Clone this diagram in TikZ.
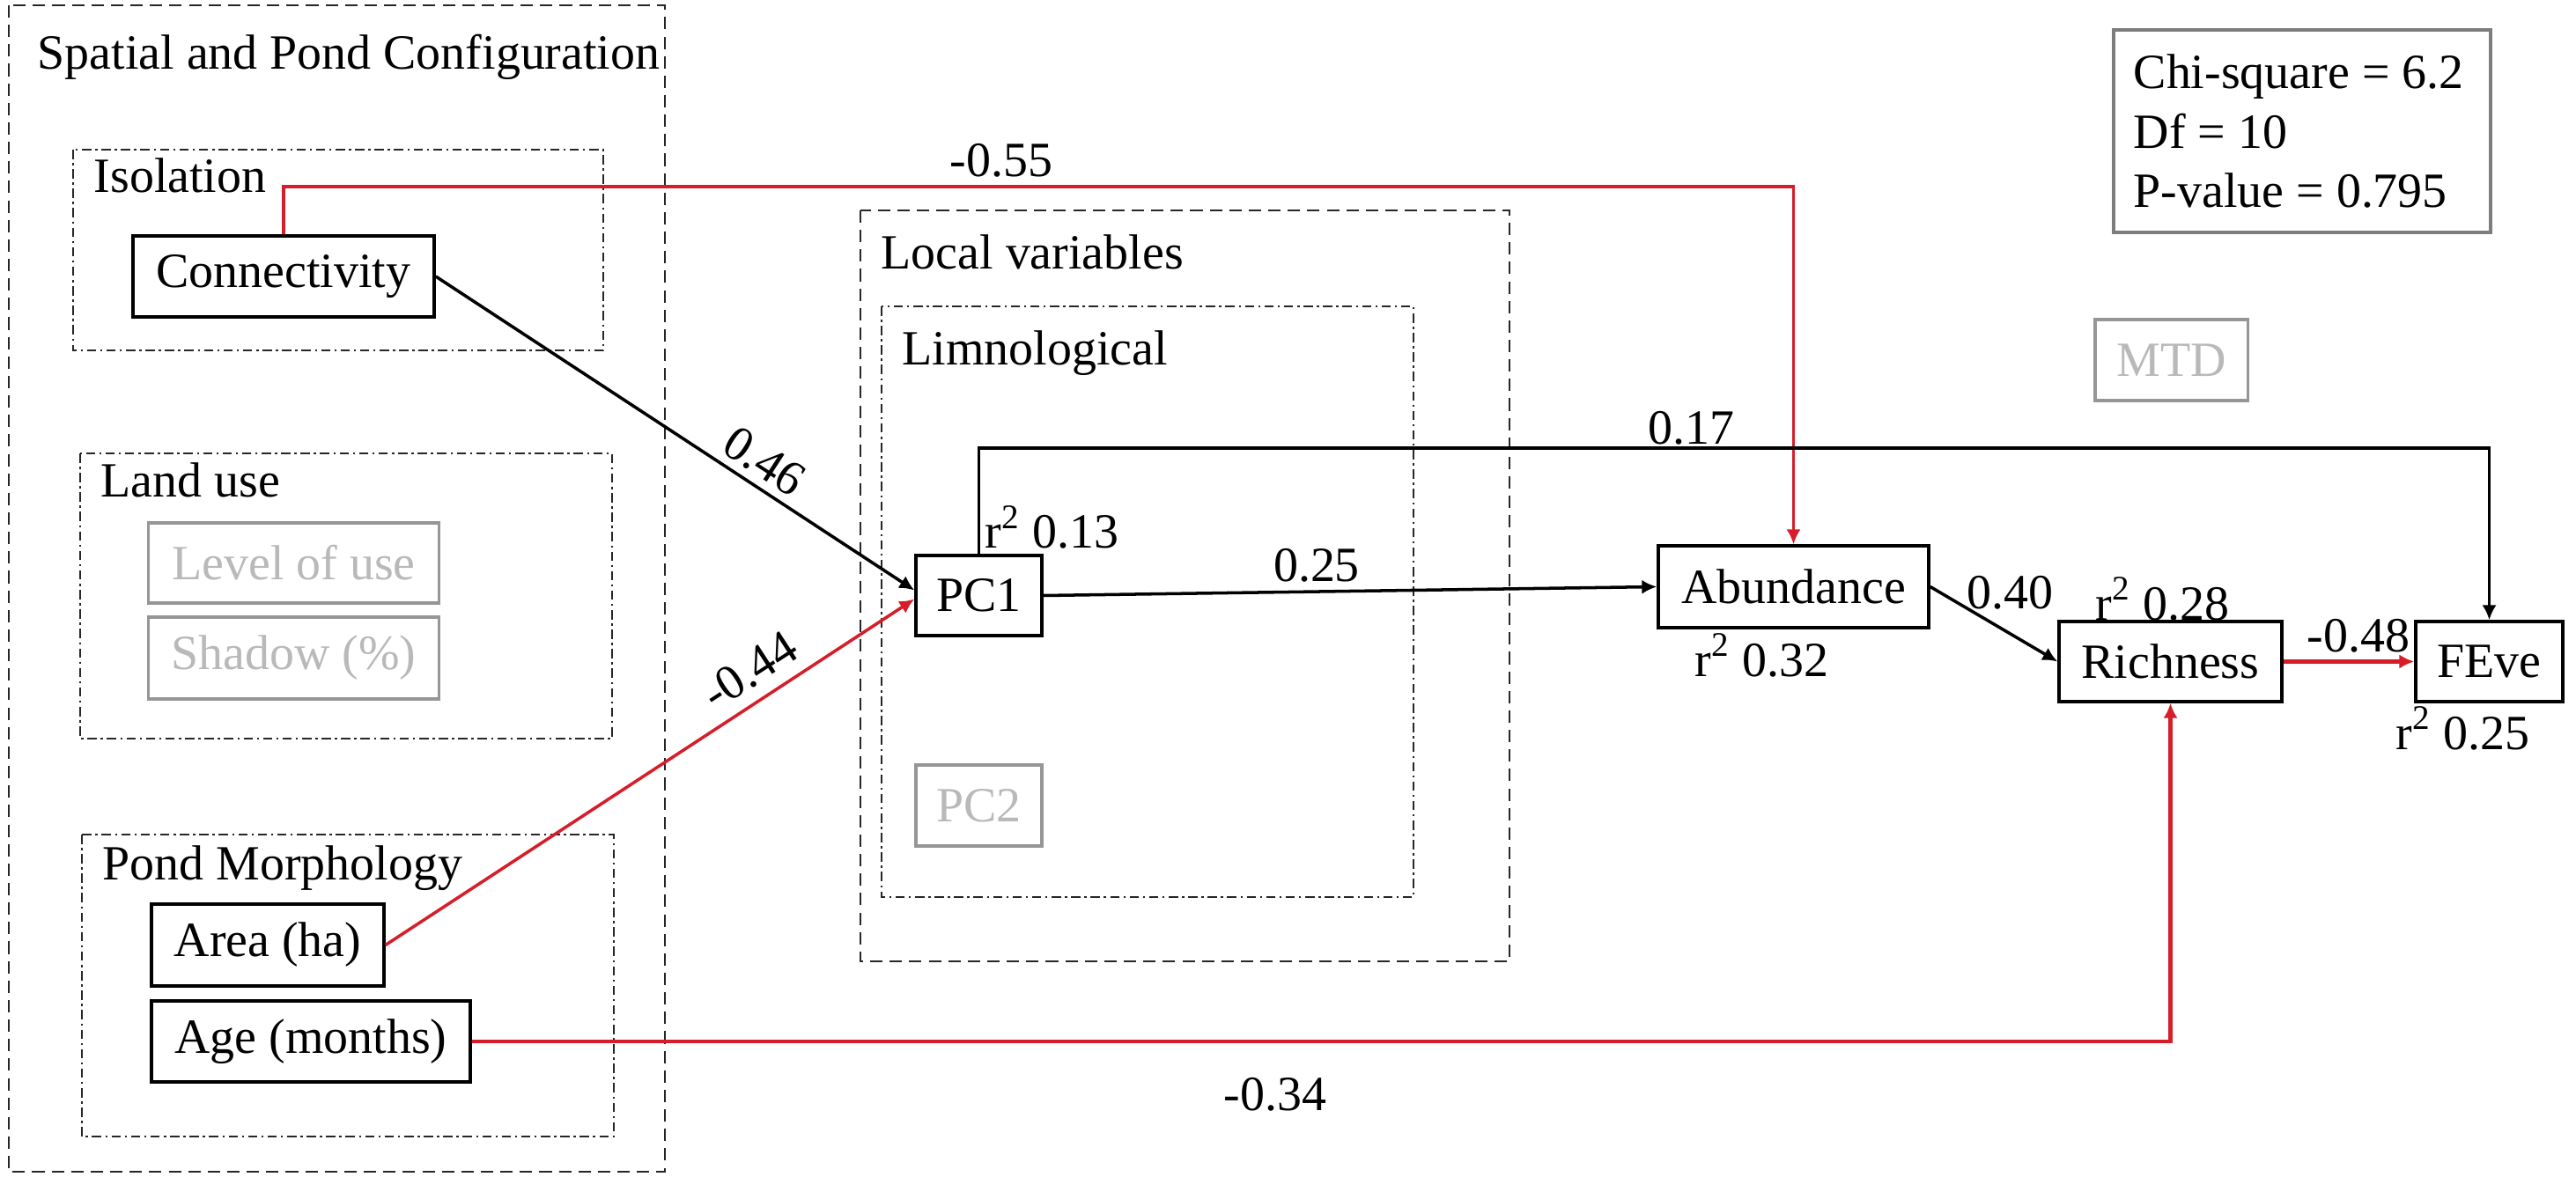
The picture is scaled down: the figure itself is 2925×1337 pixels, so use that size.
\documentclass[tikz,border=0pt]{standalone}
\usepackage{fontspec}
\setmainfont{Liberation Serif}
\usetikzlibrary{arrows.meta}
\definecolor{pathred}{RGB}{214,30,42}
\definecolor{boxgray}{RGB}{150,150,150}
\definecolor{txtgray}{RGB}{185,185,185}
\definecolor{statgray}{RGB}{125,125,125}
\begin{document}
\begin{tikzpicture}[x=0.01cm,y=-0.01cm,
  every node/.style={font=\fontsize{15.9pt}{19pt}\selectfont, inner sep=0pt},
  varbox/.style={draw=black, line width=0.95pt, fill=white},
  greybox/.style={draw=boxgray, line width=0.9pt, fill=white, text=txtgray},
  grpdash/.style={draw=black!85, line width=0.75pt, dash pattern=on 4pt off 2.3pt},
  grpdot/.style={draw=black!85, line width=0.65pt, dash pattern=on 3pt off 1.3pt on 0.7pt off 1.3pt},
  blk/.style={draw=black, line width=1pt, -{Latex[length=4.8pt,width=4.6pt]}},
  redarr/.style={draw=pathred, line width=1pt, -{Latex[length=4.8pt,width=4.6pt]}},
  lbl/.style={anchor=base west},
  clbl/.style={anchor=base}
]
\fill[white] (0,0) rectangle (2925,1337);
\useasboundingbox (0,0) rectangle (2925,1337);

% group frames
\draw[grpdash] (10,6) rectangle (755,1331);
\draw[grpdot] (83,170) rectangle (685,398);
\draw[grpdot] (91,515) rectangle (695,839);
\draw[grpdot] (93,948) rectangle (697,1291);
\draw[grpdash] (977,239) rectangle (1714,1092);
\draw[grpdot] (1001,348) rectangle (1605,1019);

% group titles
\node[lbl] (tspc) at (42,79) {Spatial and Pond Configuration};
\node[lbl] (tiso) at (106,219) {Isolation};
\node[lbl] (tland) at (114,565) {Land use};
\node[lbl] (tpond) at (116,999) {Pond Morphology};
\node[lbl] (tloc) at (1000,306) {Local variables};
\node[lbl] (tlim) at (1024,415) {Limnological};

% variable boxes
\node[varbox, minimum width=3.42cm, minimum height=0.92cm] (conn) at (322,314) {Connectivity};
\node[greybox, minimum width=3.29cm, minimum height=0.91cm] (level) at (333.5,639.5) {Level of use};
\node[greybox, minimum width=3.29cm, minimum height=0.93cm] (shadow) at (333.5,747.5) {Shadow (\%)};
\node[varbox, minimum width=2.64cm, minimum height=0.93cm] (area) at (304,1073.5) {Area (ha)};
\node[varbox, minimum width=3.62cm, minimum height=0.92cm] (age) at (353,1183) {Age (months)};
\node[varbox, minimum width=1.43cm, minimum height=0.91cm] (pc1) at (1111.5,676.5) {PC1};
\node[greybox, minimum width=1.43cm, minimum height=0.92cm] (pc2) at (1111.5,915) {PC2};
\node[varbox, minimum width=3.07cm, minimum height=0.93cm] (abund) at (2036.5,666.5) {Abundance};
\node[varbox, minimum width=2.53cm, minimum height=0.91cm] (rich) at (2464.5,751.5) {Richness};
\node[varbox, minimum width=1.67cm, minimum height=0.91cm] (feve) at (2826.5,751.5) {FEve};
\node[greybox, minimum width=1.73cm, minimum height=0.92cm] (mtd) at (2465.5,409) {MTD};

% fit statistics
\node[draw=statgray, line width=1pt, minimum width=4.28cm, minimum height=2.30cm] (stats) at (2614,149) {};
\node[lbl] (chi) at (2422,101) {Chi-square = 6.2};
\node[lbl] (df) at (2422,169) {Df = 10};
\node[lbl] (pval) at (2422,236) {P-value = 0.795};

% connector corners
\coordinate (c55) at (2036.5,212);
\coordinate (c17) at (2826.5,509);

% connectors
\draw[redarr] (conn.north) |- (c55) -- (abund.north);
\draw[blk] (pc1.north) |- (c17) -- (feve.north);
\draw[blk] (conn.east) -- ([yshift=0.06cm]pc1.west);
\draw[redarr] (area.east) -- ([yshift=-0.04cm]pc1.west);
\draw[blk] (pc1.east) -- (abund.west);
\draw[blk] (abund.east) -- (rich.west);
\draw[redarr, line width=1.35pt] (rich.east) -- (feve.west);
\draw[redarr, line width=1.2pt] (age.east) -| (rich.south);

% path labels
\node[clbl] (l055) at (1137,201) {-0.55};
\node[clbl] (l017) at (1920,505) {0.17};
\node[lbl] (r013) at (1118,623) {r\textsuperscript{2} 0.13};
\node[clbl] (l025) at (1495,660) {0.25};
\node[rotate=-33] (l046) at (868,524) {0.46};
\node[rotate=33] (l044) at (851,762) {-0.44};
\node[lbl] (r032) at (1924,768) {r\textsuperscript{2} 0.32};
\node[lbl] (l040) at (2233,691) {0.40};
\node[lbl] (r028) at (2379,704) {r\textsuperscript{2} 0.28};
\node[lbl] (l048) at (2619,740) {-0.48};
\node[lbl] (r025) at (2720,851) {r\textsuperscript{2} 0.25};
\node[clbl] (l034) at (1448,1261) {-0.34};
\end{tikzpicture}
\end{document}
